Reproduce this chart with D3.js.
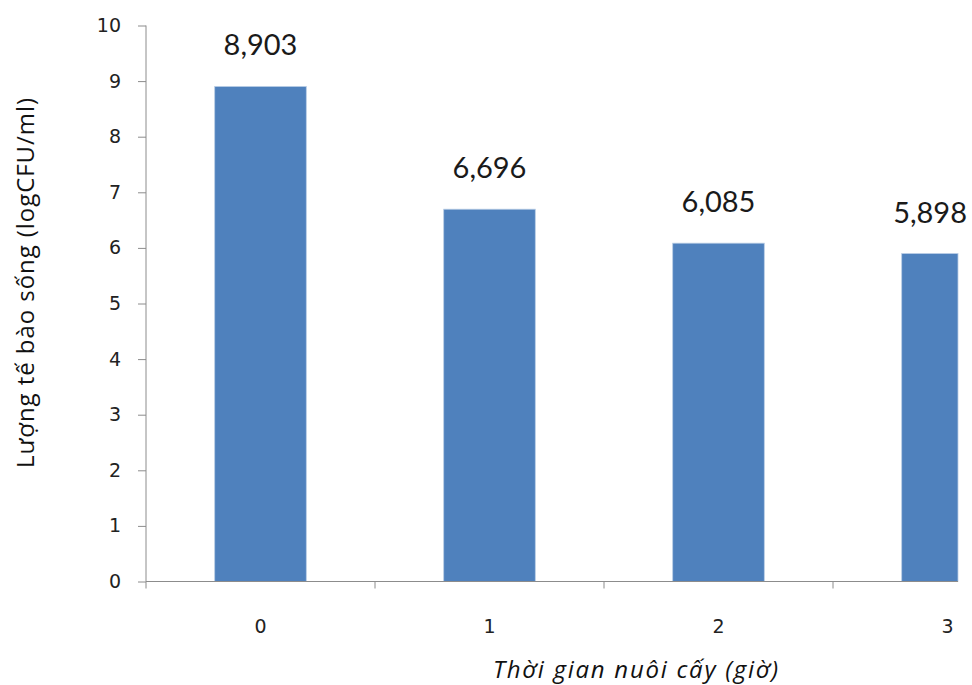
<!DOCTYPE html>
<html><head><meta charset="utf-8">
<script src="https://cdn.jsdelivr.net/npm/d3@7/dist/d3.min.js"></script>
<style>body{margin:0;background:#fff}svg{display:block}</style>
</head><body><svg id="c" width="972" height="685"></svg>
<script>
const categories = ["0", "1", "2", "3"];
const values = [8.903, 6.696, 6.085, 5.898];
const valueLabels = ["8,903", "6,696", "6,085", "5,898"];
const yTicks = [0, 1, 2, 3, 4, 5, 6, 7, 8, 9, 10];
const yTitle = "Lượng tế bào sống  (logCFU/ml)";
const xTitle = "Thời gian nuôi cấy (giờ)";

(function () {
const svg = d3.select("#c");
const left = 146, bottom = 581.5, plotTop = 25.5, bandW = 229, clipRight = 958, textRight = 967;
const x = d3.scaleBand().domain(categories).range([left, left + bandW * categories.length]).paddingInner(0.6).paddingOuter(0.3);
const y = d3.scaleLinear().domain([0, 10]).range([bottom, plotTop]);
const clampW = (x0, w) => Math.max(0, Math.min(x0 + w, clipRight) - x0);

// bars
svg.selectAll("rect.bar").data(values).join("rect").attr("class", "bar")
  .attr("x", (d, i) => x(categories[i]))
  .attr("width", (d, i) => clampW(x(categories[i]), x.bandwidth()))
  .attr("y", d => y(d))
  .attr("height", d => y(0) - y(d))
  .attr("fill", "#4F81BD")
  .attr("stroke", "#B9CDE5").attr("stroke-width", 0.8);

// value labels
const vl = svg.selectAll("text.val").data(values).join("text").attr("class", "val")
  .attr("y", d => y(d) - 31)
  .attr("text-anchor", "middle")
  .attr("font-family", "Lato, 'Open Sans', sans-serif")
  .attr("font-size", 29).attr("fill", "#1a1a1a")
  .text((d, i) => valueLabels[i]);
vl.each(function (d, i) {
  const w = this.getComputedTextLength();
  const cx = Math.min(x(categories[i]) + x.bandwidth() / 2, textRight - w / 2);
  d3.select(this).attr("x", cx);
});

// y axis
const yAxis = d3.axisLeft(y).tickValues(yTicks).tickSize(8).tickFormat(d3.format("d"));
const ya = svg.append("g").attr("transform", `translate(${left},0)`).call(yAxis);
ya.select(".domain").attr("stroke", "#8c8c8c").attr("d", `M-0,${plotTop}V${bottom}`);
ya.selectAll(".tick line").attr("stroke", "#8c8c8c");
ya.selectAll(".tick text").attr("x", -25).attr("font-family", "'DejaVu Sans', sans-serif").attr("font-size", 19).attr("fill", "#222");

// x axis
const xa = svg.append("g").attr("transform", `translate(0,${bottom})`);
xa.append("line").attr("x1", left).attr("x2", Math.min(left + bandW * categories.length, clipRight)).attr("stroke", "#8c8c8c");
const bounds = d3.range(categories.length + 1).map(i => left + i * bandW).filter(b => b <= clipRight);
xa.selectAll("line.tk").data(bounds).join("line").attr("class", "tk")
  .attr("x1", d => d).attr("x2", d => d).attr("y1", 0).attr("y2", 7).attr("stroke", "#8c8c8c");
svg.selectAll("text.xl").data(categories).join("text").attr("class", "xl")
  .attr("x", d => x(d) + x.bandwidth() / 2)
  .attr("y", 633).attr("text-anchor", "middle")
  .attr("font-family", "'DejaVu Sans', sans-serif").attr("font-size", 19).attr("fill", "#222")
  .text(d => d);

// titles
svg.append("text").attr("transform", "translate(34,283) rotate(-90)")
  .attr("text-anchor", "middle").attr("font-family", "'Open Sans', sans-serif")
  .attr("font-size", 24).attr("fill", "#111")
  .attr("textLength", 370).attr("lengthAdjust", "spacing").text(yTitle);
svg.append("text").attr("x", 635.5).attr("y", 678).attr("text-anchor", "middle")
  .attr("font-family", "'Open Sans', sans-serif").attr("font-style", "italic")
  .attr("font-size", 24).attr("fill", "#111")
  .attr("textLength", 285).attr("lengthAdjust", "spacing").text(xTitle);
})();
</script></body></html>
